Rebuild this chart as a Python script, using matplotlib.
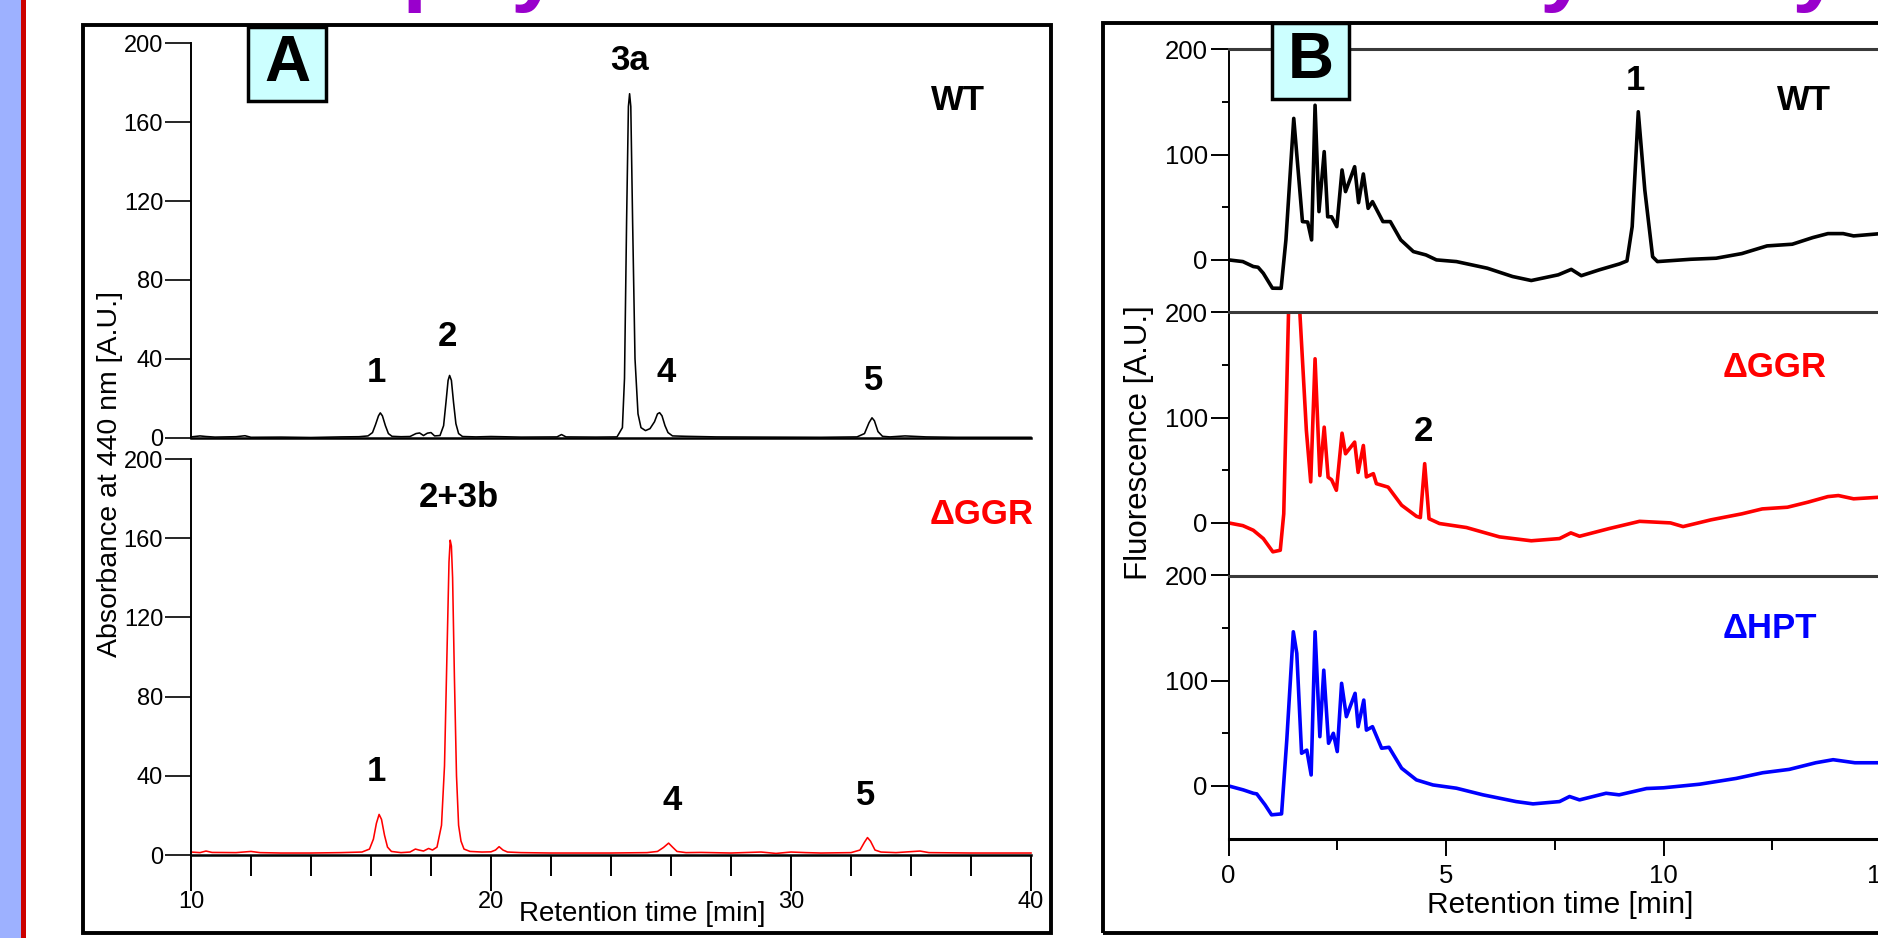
import matplotlib
matplotlib.use("Agg")
import matplotlib.pyplot as plt
from matplotlib.patches import Rectangle

W, H, DPI = 1878, 938, 100

# ---------------- Panel A: absorbance at 440 nm ----------------
a_wt_time = [10.0, 10.3, 10.5, 10.8, 11.5, 11.8, 12.0, 13.0, 14.0, 15.0, 15.6, 15.9,
             16.05, 16.15, 16.25, 16.31, 16.38, 16.48, 16.58, 16.7, 17.0, 17.3, 17.5,
             17.62, 17.75, 17.88, 18.0, 18.12, 18.3, 18.42, 18.5, 18.57, 18.62, 18.68,
             18.75, 18.83, 18.92, 19.05, 19.5, 20.0, 21.0, 22.2, 22.35, 22.5, 23.5,
             24.2, 24.38, 24.45, 24.52, 24.58, 24.62, 24.66, 24.72, 24.8, 24.9, 25.0,
             25.15, 25.3, 25.45, 25.55, 25.62, 25.7, 25.8, 25.9, 26.05, 26.5, 27.5,
             29.0, 31.0, 32.2, 32.45, 32.6, 32.7, 32.78, 32.9, 33.05, 33.3, 33.8,
             34.5, 35.5, 38.0]
a_wt_abs = [0.3, 0.8, 0.5, 0.2, 0.4, 0.9, 0.1, 0.2, 0.0, 0.3, 0.4, 0.8,
            2.5, 6.5, 11.0, 12.5, 11.0, 6.0, 2.0, 0.6, 0.4, 0.5, 2.0,
            2.3, 1.0, 2.2, 2.5, 0.8, 1.0, 6.0, 18.0, 29.0, 31.5, 29.0,
            18.0, 7.0, 2.0, 0.5, 0.3, 0.5, 0.2, 0.3, 1.5, 0.3, 0.2,
            0.3, 5.0, 30.0, 110.0, 168.0, 174.5, 168.0, 110.0, 40.0, 12.0, 5.0,
            3.5, 4.5, 8.0, 12.0, 12.6, 11.0, 6.0, 2.5, 0.8, 0.6, 0.3,
            0.2, 0.1, 0.3, 2.0, 7.5, 10.0, 8.5, 3.0, 0.6, 0.3, 0.8,
            0.3, 0.1, 0.1]

a_ggr_time = [10.0, 10.3, 10.5, 10.7, 11.5, 12.0, 12.3, 13.0, 14.0, 15.0, 15.7, 15.95,
              16.08, 16.18, 16.27, 16.35, 16.45, 16.55, 16.68, 17.0, 17.3, 17.48, 17.6,
              17.75, 17.92, 18.05, 18.2, 18.35, 18.45, 18.53, 18.6, 18.64, 18.68, 18.72,
              18.78, 18.85, 18.92, 19.0, 19.1, 19.3, 19.7, 20.0, 20.15, 20.27, 20.4,
              20.55, 21.0, 22.0, 23.0, 24.0, 25.2, 25.55, 25.75, 25.92, 26.05, 26.2,
              26.5, 27.0, 28.0, 29.0, 29.5, 30.0, 30.5, 31.0, 32.0, 32.3, 32.45,
              32.55, 32.65, 32.8, 33.0, 33.5, 34.3, 34.6, 36.0, 38.0]
a_ggr_abs = [1.5, 1.2, 2.0, 1.3, 1.2, 1.8, 1.2, 1.0, 1.0, 1.2, 1.5, 3.0,
             8.0, 16.0, 20.5, 18.0, 10.0, 4.0, 1.8, 1.2, 1.5, 3.0, 2.5,
             2.0, 3.3, 2.5, 4.0, 15.0, 45.0, 100.0, 148.0, 159.0, 156.0, 140.0,
             90.0, 40.0, 15.0, 7.0, 3.0, 1.8, 1.5, 1.6, 2.5, 4.2, 2.5,
             1.5, 1.2, 1.0, 1.0, 1.0, 1.2, 1.8, 3.8, 6.0, 4.0, 1.8,
             1.2, 1.3, 1.0, 1.5, 0.8, 1.5, 1.2, 1.0, 1.2, 2.5, 6.5,
             8.8, 7.0, 2.5, 1.5, 1.2, 2.0, 1.2, 1.0, 1.0]

a_xticks = [10, 20, 30, 38]
a_xticklabels = ["10", "20", "30", "40"]
a_xminor = [12, 14, 16, 18, 22, 24, 26, 28, 32, 34, 36]
a_yticks = [0, 40, 80, 120, 160, 200]

# ---------------- Panel B: fluorescence ----------------
b_wt_time = [0.0, 0.33, 0.57, 0.68, 0.80, 1.01, 1.21, 1.32, 1.50, 1.70, 1.82, 1.91,
             1.99, 2.08, 2.20, 2.28, 2.37, 2.49, 2.61, 2.69, 2.90, 2.99, 3.10, 3.21,
             3.31, 3.55, 3.72, 3.96, 4.25, 4.54, 4.78, 5.24, 5.95, 6.53, 6.96, 7.58,
             7.88, 8.11, 8.52, 8.99, 9.16, 9.28, 9.42, 9.57, 9.75, 9.86, 10.63, 11.21,
             11.80, 12.38, 12.96, 13.43, 13.78, 14.13, 14.37, 15.0]
b_wt_fl = [0, -1.6, -6.3, -7, -12.7, -26.9, -27, 19, 134.5, 36.4, 36, 19,
           147, 45.9, 102.9, 41, 41, 31.6, 85.5, 64.9, 88.6, 54.4, 81.7, 49,
           55.4, 36.4, 36.4, 19, 7.9, 4.7, 0, -1.6, -7.9, -15.8, -19.6, -14.2,
           -9, -15, -9.5, -3.8, -1, 31.6, 140.8, 66.5, 3, -1.6, 0.6, 1.6,
           6, 13.3, 14.9, 21.2, 25, 25, 22.8, 25]

b_ggr_time = [0.0, 0.33, 0.57, 0.80, 1.02, 1.19, 1.27, 1.38, 1.50, 1.64, 1.79, 1.89,
              1.99, 2.10, 2.20, 2.29, 2.37, 2.48, 2.61, 2.69, 2.90, 2.98, 3.10, 3.17,
              3.33, 3.40, 3.67, 3.98, 4.32, 4.41, 4.51, 4.61, 4.85, 5.47, 6.23, 6.96,
              7.61, 7.87, 8.07, 8.75, 9.45, 10.16, 10.45, 11.09, 11.80, 12.27,
              12.85, 13.32, 13.78, 14.02, 14.37, 15.0]
b_ggr_fl = [0, -2.6, -7, -14.9, -27.5, -26, 8.6, 200, 250, 200, 87.9, 39,
            156, 45, 91, 43.4, 41, 31, 85.3, 65.7, 76.8, 48, 73.6, 43.7,
            46.8, 37.3, 34, 16.8, 6.3, 5, 56.3, 4, -0.6, -4.4, -13.3, -17,
            -14.9, -9.5, -12.7, -5.4, 1.5, 0, -3.5, 2.9, 8.6, 13.3,
            14.9, 19.7, 25, 26, 22.9, 24.5]

b_hpt_time = [0.0, 0.34, 0.57, 0.65, 0.84, 0.99, 1.22, 1.34, 1.49, 1.57, 1.68, 1.80,
              1.90, 1.99, 2.10, 2.19, 2.30, 2.41, 2.50, 2.60, 2.71, 2.91, 2.98, 3.11,
              3.17, 3.31, 3.52, 3.69, 3.98, 4.32, 4.70, 5.24, 5.85, 6.61, 7.00, 7.61,
              7.84, 8.07, 8.68, 8.98, 9.61, 10.0, 10.83, 11.67, 12.28, 12.89, 13.50,
              13.90, 14.4, 15.0]
b_hpt_fl = [0, -3.8, -7, -7.6, -18, -27.5, -26.6, 43.7, 146.5, 126, 31, 34,
            10.4, 146.5, 46.8, 110, 40.5, 50, 32.6, 97.5, 65.8, 88, 56.3, 81.6,
            53, 56.3, 35.8, 36.7, 16.8, 5.7, 0.9, -2.2, -8.5, -14.9, -17.1, -14.9,
            -10.1, -13.3, -7, -8.5, -2.5, -1.8, 1.6, 7.1, 12.5, 15.7, 22,
            24.9, 22, 22]

b_xticks = [0, 5, 10, 15]
b_xminor = [2.5, 7.5, 12.5]
b_yticks = [0, 100, 200]
b_yminor = [50, 150]


def rect(x0, y0, x1, y1):
    """Axes rectangle from pixel edges (origin top-left)."""
    return [x0 / W, 1 - y1 / H, (x1 - x0) / W, (y1 - y0) / H]


def ftext(x, y, s, **kw):
    fig.text(x / W, 1 - y / H, s, **kw)


def fbox(x0, y0, x1, y1, **kw):
    fig.patches.append(Rectangle((x0 / W, 1 - y1 / H), (x1 - x0) / W, (y1 - y0) / H,
                                 transform=fig.transFigure, **kw))


SANS = ["Liberation Sans", "DejaVu Sans"]
plt.rcParams["font.family"] = SANS

fig = plt.figure(figsize=(W / DPI, H / DPI), dpi=DPI)
fig.patch.set_facecolor("white")

# slide decoration on the left edge
fbox(0, 0, 21, H, facecolor="#9DB1FF", edgecolor="none")
fbox(21, 0, 26, H, facecolor="#CC0000", edgecolor="none")

# slide title, mostly above the visible area
ftext(116, -6, "Chlorophyll and Tocotrienol", color="#9900CC", fontsize=64,
      fontweight="bold", ha="left", va="baseline")
ftext(1362, -6, "analysis by HPLC", color="#9900CC", fontsize=64,
      fontweight="bold", ha="left", va="baseline")

# panel frames
fbox(83, 25, 1051, 933, facecolor="none", edgecolor="black", linewidth=2.8)
fbox(1103, 23, 1990, 933, facecolor="none", edgecolor="black", linewidth=2.8)

# ---------- Panel A ----------
A_X0, A_X1 = 191, 1031
ax_a1 = fig.add_axes(rect(A_X0, 43.5, A_X1, 437.5))
ax_a2 = fig.add_axes(rect(A_X0, 459, A_X1, 855))
for ax in (ax_a1, ax_a2):
    ax.set_xlim(10, 38)
    ax.set_ylim(0, 200)
    ax.patch.set_alpha(0)
    for s in ("top", "right"):
        ax.spines[s].set_visible(False)
    ax.spines["left"].set_linewidth(1.4)
    ax.spines["bottom"].set_linewidth(1.8)
    ax.set_yticks(a_yticks)
    ax.tick_params(axis="y", direction="out", length=19, width=1.2, labelsize=17, pad=1)

ax_a1.plot(a_wt_time, a_wt_abs, color="black", lw=1.15, clip_on=False)
ax_a1.set_xticks([])
ax_a2.plot(a_ggr_time, a_ggr_abs, color="#FF0000", lw=1.15, clip_on=False)
ax_a2.set_xticks(a_xticks)
ax_a2.set_xticklabels(a_xticklabels)
ax_a2.set_xticks(a_xminor, minor=True)
ax_a2.tick_params(axis="x", which="major", direction="out", length=26, width=1.4,
                  labelsize=17, pad=0)
ax_a2.tick_params(axis="x", which="minor", direction="out", length=15, width=1.4)

ftext(110, 474, "Absorbance at 440 nm [A.U.]", rotation=90, fontsize=20.5,
      ha="center", va="center")
ftext(642, 914, "Retention time [min]", fontsize=20, ha="center", va="center")

pk = dict(fontsize=25, fontweight="bold", ha="center", va="center")
ftext(630, 60, "3a", **pk)
ftext(376, 372, "1", **pk)
ftext(447, 337, "2", **pk)
ftext(666, 373, "4", **pk)
ftext(874, 380, "5", **pk)
ftext(958, 101, "WT", **pk)
ftext(376, 771, "1", **pk)
ftext(459, 497, "2+3b", **pk)
ftext(672, 800, "4", **pk)
ftext(866, 795, "5", **pk)
ftext(982, 515, "\u0394GGR", color="#FF0000", **pk)

fbox(248, 27, 326, 101, facecolor="#CCFFFF", edgecolor="black", linewidth=2.5)
ftext(287, 64, "A", fontsize=46, fontweight="bold", ha="center", va="center")

# ---------- Panel B ----------
B_X0 = 1228.5
PX_PER_MIN = 43.5
B_XMAX = 17.0
b_right = B_X0 + PX_PER_MIN * B_XMAX
rows = [(49.5, 312.5), (312.5, 575.5), (575.5, 838.5)]
traces = [(b_wt_time, b_wt_fl, "black"),
          (b_ggr_time, b_ggr_fl, "#FF0000"),
          (b_hpt_time, b_hpt_fl, "#0000FF")]
for i, ((top, bot), (t, v, c)) in enumerate(zip(rows, traces)):
    ax = fig.add_axes(rect(B_X0, top, b_right, bot))
    ax.set_xlim(0, B_XMAX)
    ax.set_ylim(-50, 200)
    ax.patch.set_alpha(0)
    ax.spines["right"].set_visible(False)
    ax.spines["top"].set_color("#3a3a3a")
    ax.spines["top"].set_linewidth(2.2)
    ax.spines["left"].set_linewidth(1.4)
    ax.plot(t, v, color=c, lw=2.6, solid_joinstyle="round")
    ax.set_yticks(b_yticks)
    ax.set_yticks(b_yminor, minor=True)
    ax.tick_params(axis="y", which="major", direction="out", length=13, width=1.4,
                   labelsize=18.5, pad=2)
    ax.tick_params(axis="y", which="minor", direction="out", length=5, width=1.4)
    if i < 2:
        ax.spines["bottom"].set_visible(False)
        ax.set_xticks([])
    else:
        ax.spines["bottom"].set_linewidth(2.2)
        ax.set_xticks(b_xticks)
        ax.set_xticks(b_xminor, minor=True)
        ax.tick_params(axis="x", which="major", direction="out", length=12, width=1.4,
                       labelsize=18.5, pad=6)
        ax.tick_params(axis="x", which="minor", direction="out", length=8, width=1.4)

ftext(1139, 443, "Fluorescence [A.U.]", rotation=90, fontsize=22.5,
      ha="center", va="center")
ftext(1560, 905, "Retention time [min]", fontsize=21.5, ha="center", va="center")

ftext(1635, 80, "1", **pk)
ftext(1804, 101, "WT", **pk)
ftext(1423, 431, "2", **pk)
ftext(1775, 367, "\u0394GGR", color="#FF0000", **pk)
ftext(1770, 628, "\u0394HPT", color="#0000FF", **pk)

fbox(1272, 23, 1349, 99, facecolor="#CCFFFF", edgecolor="black", linewidth=2.5)
ftext(1310.5, 61, "B", fontsize=46, fontweight="bold", ha="center", va="center")

fig.savefig("out.png", dpi=DPI)
